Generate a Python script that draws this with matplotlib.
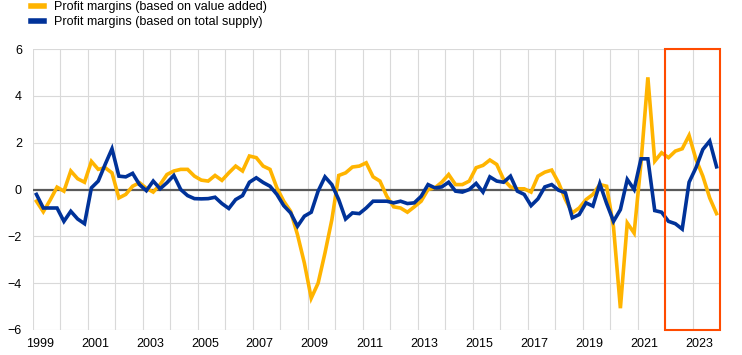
import numpy as np
import pandas as pd
import matplotlib
matplotlib.use("Agg")
import matplotlib.pyplot as plt
from matplotlib.patches import Rectangle

# quarterly observations, 1999Q1 - 2023Q4
quarters = pd.period_range("1999Q1", "2023Q4", freq="Q")

# profit margins based on value added (percentage)
value_added = [
    -0.5, -0.95, -0.45, 0.1, -0.07, 0.79, 0.46, 0.31, 1.2, 0.86,
    0.93, 0.71, -0.36, -0.21, 0.14, 0.29, 0.05, -0.11, 0.21, 0.64,
    0.79, 0.86, 0.86, 0.57, 0.4, 0.36, 0.6, 0.39, 0.71, 1.0,
    0.79, 1.43, 1.36, 1.0, 0.86, 0.07, -0.5, -0.93, -1.93, -3.14,
    -4.64, -4.0, -2.71, -1.29, 0.6, 0.71, 0.96, 1.0, 1.14, 0.54,
    0.36, -0.29, -0.74, -0.79, -0.97, -0.74, -0.5, 0.0, 0.07, 0.31,
    0.64, 0.21, 0.21, 0.36, 0.93, 1.03, 1.26, 1.07, 0.43, 0.11,
    0.03, 0.03, -0.11, 0.57, 0.74, 0.83, 0.29, -0.43, -1.0, -0.79,
    -0.43, -0.21, 0.21, 0.14, -1.6, -5.07, -1.43, -1.86, 1.14, 4.79,
    1.21, 1.57, 1.36, 1.64, 1.74, 2.31, 1.29, 0.57, -0.36, -1.03,
]

# profit margins based on total supply (percentage)
total_supply = [
    -0.21, -0.79, -0.79, -0.79, -1.36, -0.93, -1.26, -1.46, 0.07, 0.36,
    1.07, 1.74, 0.57, 0.54, 0.69, 0.21, -0.05, 0.36, 0.03, 0.29,
    0.6, 0.0, -0.26, -0.39, -0.4, -0.39, -0.33, -0.6, -0.81, -0.43,
    -0.26, 0.31, 0.5, 0.3, 0.14, -0.21, -0.69, -1.0, -1.57, -1.14,
    -0.97, -0.07, 0.54, 0.21, -0.43, -1.26, -1.0, -1.03, -0.79, -0.5,
    -0.5, -0.5, -0.57, -0.5, -0.6, -0.57, -0.29, 0.21, 0.07, 0.11,
    0.31, -0.07, -0.11, 0.0, 0.26, -0.11, 0.54, 0.36, 0.31, 0.57,
    -0.07, -0.21, -0.69, -0.4, 0.11, 0.21, -0.03, -0.14, -1.21, -1.07,
    -0.57, -0.71, 0.25, -0.6, -1.36, -0.86, 0.43, 0.0, 1.31, 1.31,
    -0.9, -0.97, -1.36, -1.46, -1.69, 0.31, 0.93, 1.71, 2.07, 0.97,
]

year_labels = [str(y) for y in range(1999, 2024, 2)]
labels = ["Profit margins (based on value added)",
          "Profit margins (based on total supply)"]

yellow = "#FFB400"
blue = "#003299"
red = "#FF4B00"

plt.rcParams["font.family"] = ["Liberation Sans", "DejaVu Sans"]
plt.rcParams["font.size"] = 9

# place each quarter in the middle of its slot within the year
x = quarters.year + (quarters.quarter - 0.5) / 4

fig = plt.figure(figsize=(7.42, 3.55), dpi=100)
ax = fig.add_axes([33 / 742, 1 - 330 / 355, 687 / 742, 281 / 355])

# grid: every year vertically, every 2 units horizontally
for yr in range(1999, 2025):
    ax.axvline(yr, color="#D9D9D9", lw=0.8, zorder=0)
for yv in range(-6, 7, 2):
    if yv != 0:
        ax.axhline(yv, color="#D9D9D9", lw=0.8, zorder=0)
ax.axhline(0, color="#595959", lw=1.6, zorder=1)

ax.plot(x, value_added, color=yellow, lw=2.6, label=labels[0], zorder=2,
        solid_joinstyle="miter")
ax.plot(x, total_supply, color=blue, lw=2.6, label=labels[1], zorder=3,
        solid_joinstyle="miter")

# highlight box for 2022-2023
ax.add_patch(Rectangle((2022, -6), 2, 12, fill=False, edgecolor=red,
                       lw=1.5, zorder=4, clip_on=False))

ax.set_xlim(1999, 2024)
ax.set_ylim(-6, 6)
ax.set_xticks([int(s) + 0.25 for s in year_labels])
ax.set_xticklabels(year_labels)
ax.set_yticks(range(-6, 7, 2))
ax.tick_params(length=0, labelsize=9, colors="black")
ax.tick_params(axis="x", pad=6)
ax.tick_params(axis="y", pad=8)
for sp in ax.spines.values():
    sp.set_visible(False)

fig.legend(loc="upper left", bbox_to_anchor=(30 / 742, 1.0),
           frameon=False, handlelength=1.05, handletextpad=0.8,
           labelspacing=0.25, borderpad=0.1, borderaxespad=0,
           fontsize=9)
for h in fig.legends[0].legend_handles:
    h.set_linewidth(4)

fig.savefig("out.png", dpi=100)
